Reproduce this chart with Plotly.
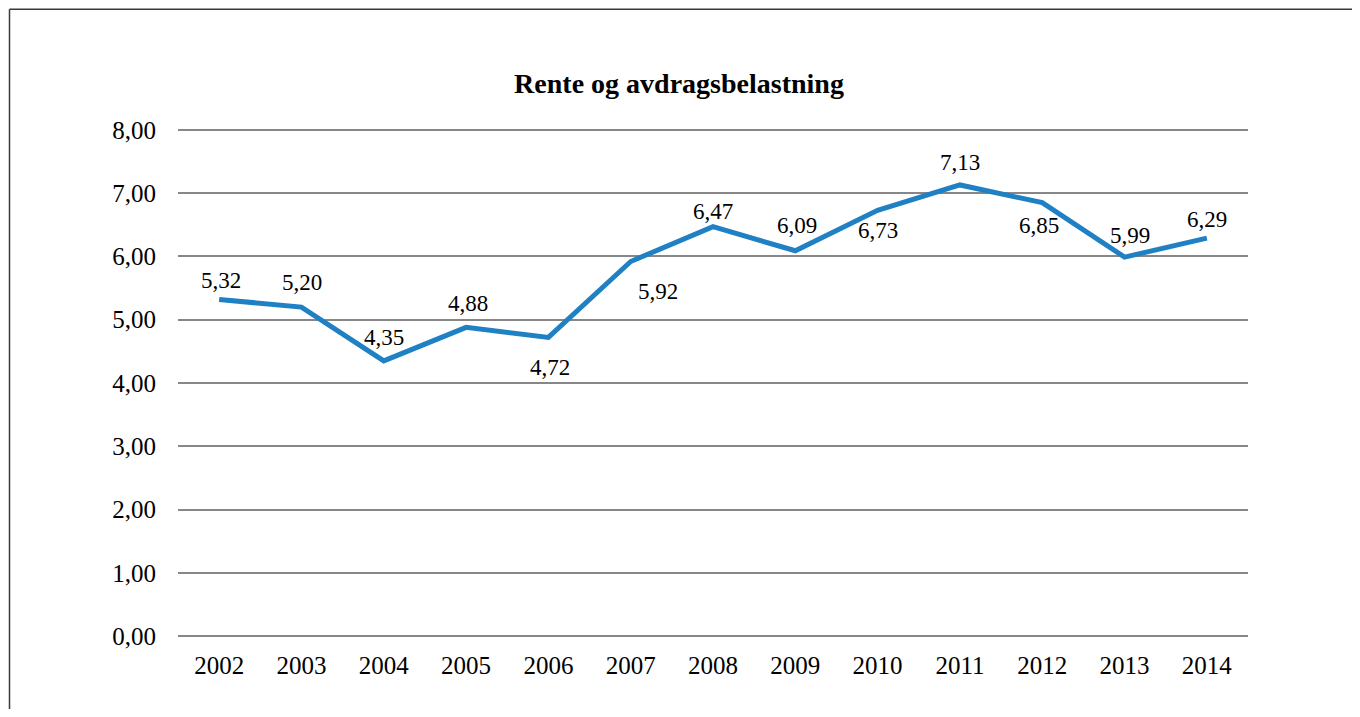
import plotly.graph_objects as go

years = ["2002", "2003", "2004", "2005", "2006", "2007", "2008",
         "2009", "2010", "2011", "2012", "2013", "2014"]
values = [5.32, 5.20, 4.35, 4.88, 4.72, 5.92, 6.47, 6.09, 6.73, 7.13, 6.85, 5.99, 6.29]
y_ticks = [0, 1, 2, 3, 4, 5, 6, 7, 8]

# label offsets in pixels (dx, dy up-positive)
label_offsets = [(2, 19), (1, 25), (0, 23), (2, 24), (2, -30), (27, -30), (0, 15),
                 (2, 25), (0, -20), (0, 22), (-3, -23), (5, 22), (0, 19)]

FONT = "Liberation Serif, Times New Roman, serif"

# page body has an 8px margin; work in figure pixels = screen pixels - 8
OFF = 8
W, H = 1360 - OFF, 717 - 2 * OFF
unit = 63.25          # px per y unit
pad = 0.03            # range padding so edge gridlines are drawn
L = 178 - OFF
R = W - (1248 - OFF)
T = (130 - OFF) - pad * unit
B = H - (636 - OFF) - pad * unit
pw = W - L - R
ph = H - T - B

fig = go.Figure()
fig.add_trace(go.Scatter(
    x=years, y=values, mode="lines",
    line=dict(color="#1f80c3", width=5, shape="linear"),
    hoverinfo="x+y", showlegend=False,
))

annotations = []
for i, (v, (dx, dy)) in enumerate(zip(values, label_offsets)):
    annotations.append(dict(
        x=i, y=v, xref="x", yref="y",
        text=f"{v:.2f}".replace(".", ","),
        showarrow=False, xshift=dx, yshift=dy,
        font=dict(family=FONT, size=23, color="#000000"),
        xanchor="center", yanchor="middle",
    ))


def px_to_paper_x(px):
    return (px - OFF - L) / pw


def px_to_paper_y(py):
    return (H - B - (py - OFF)) / ph


border = dict(color="#3a3a3a", width=1.5)

fig.update_layout(
    width=W, height=H,
    margin=dict(l=L, r=R, t=T, b=B, pad=0),
    paper_bgcolor="white", plot_bgcolor="white",
    font=dict(family=FONT, size=25, color="#000000"),
    separators=", ",
    title=dict(
        text="<b>Rente og avdragsbelastning</b>",
        x=(679 - OFF) / W, xanchor="center", xref="container",
        y=1 - (83 - OFF) / H, yanchor="middle", yref="container",
        font=dict(family=FONT, size=28, color="#000000"),
    ),
    xaxis=dict(
        type="category", showgrid=False, zeroline=False,
        showline=False, ticks="", ticklabelstandoff=10,
        tickfont=dict(family=FONT, size=25, color="#000000"),
        range=[-0.5, len(years) - 0.5], fixedrange=True,
    ),
    yaxis=dict(
        range=[-pad, 8 + pad], tickvals=y_ticks, tickformat=".2f",
        showgrid=True, gridcolor="#878787", gridwidth=1.5,
        zeroline=False, showline=False, ticks="",
        ticklabelstandoff=21,
        tickfont=dict(family=FONT, size=25, color="#000000"),
        fixedrange=True,
    ),
    annotations=annotations,
    shapes=[
        dict(type="line", xref="paper", yref="paper",
             x0=px_to_paper_x(9.5), x1=px_to_paper_x(1362),
             y0=px_to_paper_y(9.5), y1=px_to_paper_y(9.5),
             line=border, layer="below"),
        dict(type="line", xref="paper", yref="paper",
             x0=px_to_paper_x(9.5), x1=px_to_paper_x(9.5),
             y0=px_to_paper_y(9.5), y1=px_to_paper_y(719),
             line=border, layer="below"),
    ],
)

fig.write_html("out.html")
